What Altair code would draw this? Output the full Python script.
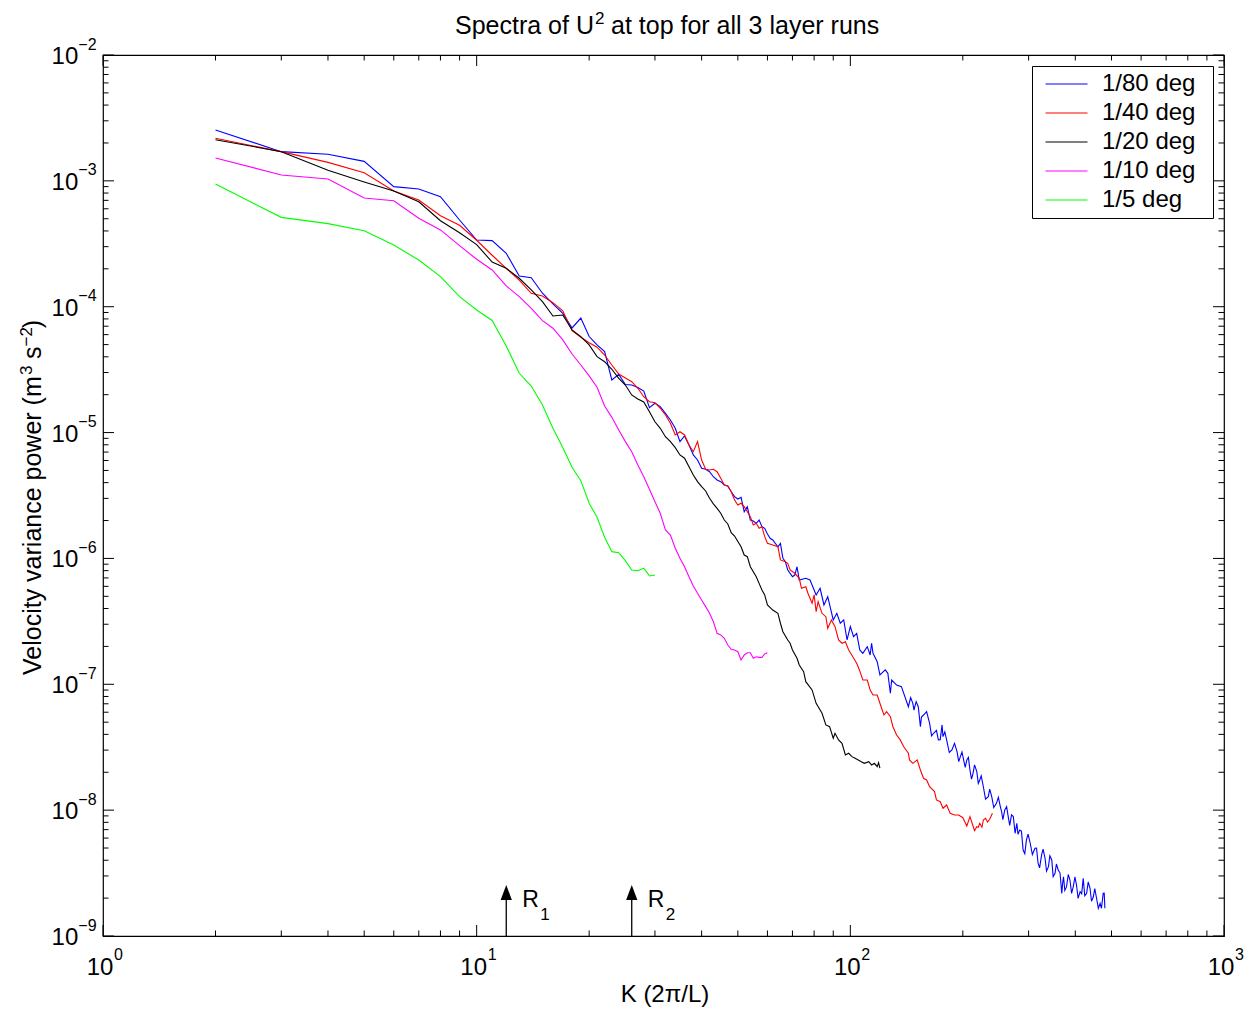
import altair as alt
import pandas as pd

# ---------------- data ----------------
series_names = ["1/80 deg", "1/40 deg", "1/20 deg", "1/10 deg", "1/5 deg"]
series_colors = ["#0000ff", "#ff0000", "#000000", "#ff00ff", "#00ff00"]

# log10 of power, K in units of 2*pi/L
k_80 = list(range(2, 61)) + [61, 62, 64, 65, 66, 67, 68, 70, 71, 72, 73, 76, 78, 80, 81, 83, 85, 87, 90, 92, 94,
                             96, 98, 100, 102, 104, 106, 108, 111, 113, 114, 115, 118, 120, 124, 126, 128, 129,
                             133, 137,
                             143, 145, 147, 148, 150, 152, 154, 155, 157, 160, 163, 165, 167, 170, 172, 174, 176,
                             177, 179, 181, 184, 187, 190, 193, 195, 197, 199, 201, 203, 205, 207, 209, 211, 213,
                             215, 218, 220, 222, 224, 227, 230, 234, 236, 239, 242, 246, 249, 252, 254, 256, 259,
                             262, 265, 267, 270, 273, 276, 279, 281, 284, 287, 290, 293, 296, 299, 303, 307, 312,
                             315, 318, 321, 325, 328, 332, 335, 339, 342, 346, 349, 353, 356, 360, 364, 368, 370,
                             372, 375, 379, 383, 387, 391, 395, 399, 403, 407, 412, 416, 420, 424, 429, 433, 438,
                             442, 447, 451, 456, 461, 466, 470, 475, 478, 480]
lp_80 = [-2.596, -2.768, -2.789, -2.845, -3.046, -3.065, -3.126, -3.311, -3.470, -3.475, -3.576, -3.756,
         -3.769, -3.893, -3.978, -4.052, -4.169, -4.090, -4.237, -4.304, -4.356, -4.582, -4.538, -4.618,
         -4.622, -4.642, -4.670, -4.802, -4.767, -4.794, -4.847, -4.900, -4.966, -5.072, -5.027, -5.099,
         -5.178, -5.218, -5.284, -5.292, -5.311, -5.351, -5.377, -5.390, -5.416, -5.424, -5.470, -5.509,
         -5.528, -5.514, -5.629, -5.589, -5.695, -5.703, -5.721, -5.695, -5.748, -5.761, -5.806,
         -5.840, -5.853, -5.907, -5.880, -5.999, -6.026, -6.092, -6.145, -6.132, -6.066, -6.171, -6.158,
         -6.171, -6.251, -6.290, -6.237, -6.370, -6.304, -6.489, -6.436, -6.515, -6.489, -6.648, -6.542,
         -6.622, -6.595, -6.727, -6.754, -6.701, -6.767, -6.674, -6.754, -6.820, -6.926, -6.886, -6.913,
         -7.071, -6.966, -7.006, -7.019,
         -7.178, -7.105, -7.151, -7.205, -7.138, -7.178, -7.337, -7.260, -7.244, -7.217, -7.310, -7.410,
         -7.389, -7.366, -7.442, -7.440, -7.323, -7.416, -7.379, -7.442, -7.542, -7.522, -7.469, -7.535,
         -7.615, -7.575, -7.538, -7.601, -7.661, -7.601, -7.581, -7.681, -7.754, -7.707, -7.640, -7.694,
         -7.787, -7.760, -7.727, -7.814, -7.913, -7.893, -7.833, -7.893, -7.980, -7.946, -7.899, -7.972,
         -8.012, -8.075, -7.999, -7.972, -8.065, -8.121, -8.038, -8.051, -8.184, -8.104, -8.191, -8.158,
         -8.167, -8.317, -8.347, -8.237, -8.190, -8.263, -8.353, -8.303, -8.302, -8.422, -8.459, -8.356,
         -8.309, -8.382, -8.485, -8.449, -8.362, -8.396, -8.529, -8.502, -8.428, -8.475, -8.498, -8.661,
         -8.580, -8.529, -8.638, -8.608, -8.511, -8.555, -8.661, -8.608, -8.531, -8.595, -8.701, -8.648,
         -8.664, -8.541, -8.680, -8.661, -8.571, -8.621, -8.724, -8.688, -8.624, -8.700, -8.780, -8.740,
         -8.780, -8.661, -8.660, -8.780]

k_40 = list(range(2, 61)) + [62, 64, 65, 67, 68, 69, 71, 73, 74, 76, 77, 79, 80, 81, 82, 84, 86, 87, 89, 91, 93,
                             95, 97, 99, 102, 104, 106, 108, 111, 113, 115, 118, 120, 123, 125, 128, 130, 133,
                             136, 139, 143, 144, 147, 151, 154, 157, 160, 163, 168, 170, 174, 177, 181, 185, 190,
                             195, 200, 205, 209, 213, 215, 218, 220, 222, 225, 227, 230, 233, 236, 240]
lp_40 = [-2.662, -2.768, -2.853, -2.935, -3.081, -3.152, -3.277, -3.353, -3.472, -3.591, -3.695, -3.788,
         -3.893, -3.915, -3.968, -4.032, -4.190, -4.243, -4.286, -4.322, -4.384, -4.463, -4.535, -4.566,
         -4.596, -4.648, -4.715, -4.755, -4.763, -4.807, -4.860, -4.926, -5.019, -4.993, -5.019, -5.099,
         -5.152, -5.072, -5.218, -5.292, -5.297, -5.292, -5.311, -5.363, -5.416, -5.424, -5.470, -5.536,
         -5.575, -5.562, -5.589, -5.629, -5.668, -5.734, -5.721, -5.761, -5.748, -5.827, -5.880,
         -5.893, -5.907, -6.012, -6.026, -6.039, -6.092, -6.118, -6.158, -6.237, -6.225, -6.277, -6.356,
         -6.290, -6.423, -6.344, -6.436, -6.463, -6.555, -6.489, -6.542, -6.648, -6.674, -6.662, -6.727,
         -6.791, -6.833, -6.894, -6.966, -6.966, -7.045, -7.085, -7.085, -7.151, -7.244, -7.218, -7.257,
         -7.337, -7.403, -7.442, -7.496, -7.548, -7.601, -7.628, -7.601, -7.681, -7.747, -7.760, -7.814,
         -7.853, -7.919, -7.933, -7.985, -7.959, -8.025, -8.038, -8.038, -8.060, -8.126, -8.052, -8.126,
         -8.163, -8.131, -8.136, -8.104, -8.136, -8.078, -8.065, -8.094, -8.073, -8.025]

k_20 = list(range(2, 51)) + [51, 52, 53, 54, 56, 57, 58, 59, 60, 62, 64, 65, 66, 68, 69, 70, 72, 73, 75, 76, 79,
                             81, 84, 86, 88, 90, 91, 93, 95, 97, 99, 101, 103, 105, 107, 109, 112, 114, 116, 118,
                             119, 120]
lp_20 = [-2.673, -2.768, -2.916, -3.009, -3.081, -3.166, -3.317, -3.412, -3.507, -3.645, -3.695, -3.774,
         -3.867, -3.960, -4.074, -4.066, -4.185, -4.238, -4.304, -4.397, -4.437, -4.497, -4.569, -4.622,
         -4.701, -4.733, -4.757, -4.834, -4.914, -4.966, -5.033, -5.072, -5.120, -5.178, -5.204, -5.271,
         -5.337, -5.390, -5.430, -5.464, -5.522, -5.567, -5.602, -5.641, -5.695, -5.726, -5.795, -5.822,
         -5.865,
         -5.907, -5.973, -5.986, -6.066, -6.145, -6.198, -6.251, -6.290, -6.370, -6.410, -6.436, -6.515,
         -6.582, -6.648, -6.674, -6.727, -6.793, -6.847, -6.900, -6.979, -7.045, -7.151, -7.230, -7.323,
         -7.337, -7.429, -7.389, -7.442, -7.469, -7.562, -7.548, -7.575, -7.588, -7.601, -7.615, -7.628,
         -7.615, -7.641, -7.628, -7.655, -7.623, -7.667]

k_10 = list(range(2, 61))
lp_10 = [-2.818, -2.953, -2.985, -3.136, -3.158, -3.297, -3.390, -3.515, -3.623, -3.708, -3.835, -3.920,
         -4.013, -4.111, -4.171, -4.264, -4.376, -4.463, -4.550, -4.640, -4.789, -4.879, -4.979, -5.072,
         -5.152, -5.258, -5.351, -5.451, -5.549, -5.641, -5.774, -5.814, -5.919, -5.999, -6.066, -6.145,
         -6.219, -6.277, -6.330, -6.383, -6.436, -6.503, -6.595, -6.608, -6.634, -6.688, -6.722, -6.727,
         -6.741, -6.807, -6.767, -6.749, -6.749, -6.793, -6.781, -6.786, -6.786, -6.759, -6.749]

k_5 = list(range(2, 31))
lp_5 = [-3.025, -3.290, -3.340, -3.396, -3.510, -3.629, -3.761, -3.920, -4.026, -4.109, -4.312, -4.529,
        -4.630, -4.781, -4.966, -5.119, -5.276, -5.382, -5.562, -5.673, -5.832, -5.946, -5.954, -6.018,
        -6.092, -6.097, -6.078, -6.139, -6.132]

# annotation arrows (R1, R2)
arrow_k = [12, 26]
arrow_names = ["R", "R"]
arrow_subs = ["1", "2"]
arrow_base = 1e-9
arrow_head_log = -8.654

# axis ticks / labels
x_major = [1, 10, 100, 1000]
x_exp = ["0", "1", "2", "3"]
x_minor = [m * 10 ** e for e in range(0, 3) for m in range(2, 10)]
y_major = [1e-2, 1e-3, 1e-4, 1e-5, 1e-6, 1e-7, 1e-8, 1e-9]
y_exp = ["\u22122", "\u22123", "\u22124", "\u22125", "\u22126", "\u22127", "\u22128", "\u22129"]
y_minor = [m * 10.0 ** e for e in range(-9, -2) for m in range(2, 10)]

# ---------------- build table ----------------
rows = []
for name, ks, lps in zip(series_names, [k_80, k_40, k_20, k_10, k_5], [lp_80, lp_40, lp_20, lp_10, lp_5]):
    assert len(ks) == len(lps), (name, len(ks), len(lps))
    for k, lp in zip(ks, lps):
        rows.append({"series": name, "K": k, "P": 10 ** lp})
df = pd.DataFrame(rows)

W, H = 1121, 881
FONT = "Liberation Sans"
xs = alt.Scale(type="log", domain=[1, 1000], nice=False)
ys = alt.Scale(type="log", domain=[1e-9, 1e-2], nice=False)

lines = alt.Chart(df).mark_line(strokeWidth=1.1, clip=True).encode(
    x=alt.X("K:Q", scale=xs, axis=None),
    y=alt.Y("P:Q", scale=ys, axis=None),
    color=alt.Color(
        "series:N",
        scale=alt.Scale(domain=series_names, range=series_colors),
        legend=alt.Legend(
            title=None, orient="none", legendX=929, legendY=11, direction="vertical",
            strokeColor="black", fillColor="white", padding=6,
            symbolType="M-3,0L3,0", symbolSize=196, symbolStrokeWidth=1.2,
            symbolOffset=16.5, labelOffset=23.5, labelFontSize=24, labelFont=FONT,
            labelColor="black", rowPadding=5,
            labelExpr="datum.label + '\u00a0\u2009\u200b'",
        ),
    ),
)

def rules_x(vals, length):
    d = pd.DataFrame({"v": vals})
    bottom = alt.Chart(d).mark_rule(color="black", strokeWidth=1).encode(
        x=alt.X("v:Q", scale=xs, axis=None), y=alt.value(H - length), y2=alt.value(H))
    top = alt.Chart(d).mark_rule(color="black", strokeWidth=1).encode(
        x=alt.X("v:Q", scale=xs, axis=None), y=alt.value(0), y2=alt.value(length))
    return [bottom, top]

def rules_y(vals, length):
    d = pd.DataFrame({"v": vals})
    left = alt.Chart(d).mark_rule(color="black", strokeWidth=1).encode(
        y=alt.Y("v:Q", scale=ys, axis=None), x=alt.value(0), x2=alt.value(length))
    right = alt.Chart(d).mark_rule(color="black", strokeWidth=1).encode(
        y=alt.Y("v:Q", scale=ys, axis=None), x=alt.value(W - length), x2=alt.value(W))
    return [left, right]

tick_layers = rules_x(x_major, 11) + rules_x(x_minor, 5.5) + rules_y(y_major, 11) + rules_y(y_minor, 5.5)

xl = pd.DataFrame({"v": x_major, "e": x_exp, "b": ["10"] * 4})
yl = pd.DataFrame({"v": y_major, "e": y_exp, "b": ["10"] * 8})

x_base = alt.Chart(xl).mark_text(font=FONT, fontSize=24, align="center", baseline="alphabetic", dx=-3).encode(
    x=alt.X("v:Q", scale=xs, axis=None), y=alt.value(H + 39), text="b:N")
x_sup = alt.Chart(xl).mark_text(font=FONT, fontSize=16, align="left", baseline="alphabetic", dx=11).encode(
    x=alt.X("v:Q", scale=xs, axis=None), y=alt.value(H + 24), text="e:N")
y_base = alt.Chart(yl).mark_text(font=FONT, fontSize=24, align="right", baseline="alphabetic", dy=9).encode(
    y=alt.Y("v:Q", scale=ys, axis=None), x=alt.value(-24.7), text="b:N")
y_sup = alt.Chart(yl).mark_text(font=FONT, fontSize=16, align="left", baseline="alphabetic", dy=-5.5).encode(
    y=alt.Y("v:Q", scale=ys, axis=None), x=alt.value(-24.7), text="e:N")

# arrows R1 / R2
ad = pd.DataFrame({"K": arrow_k, "lo": [arrow_base] * 2, "hi": [10 ** arrow_head_log] * 2,
                   "n": arrow_names, "s": arrow_subs})
arrow_shaft = alt.Chart(ad).mark_rule(color="black", strokeWidth=1.3).encode(
    x=alt.X("K:Q", scale=xs, axis=None), y=alt.Y("lo:Q", scale=ys, axis=None), y2="hi:Q")
arrow_head = alt.Chart(ad).mark_point(shape="M0,-1L-0.75,1L0.75,1Z", size=225, filled=True,
                                      color="black", opacity=1).encode(
    x=alt.X("K:Q", scale=xs, axis=None), y=alt.Y("hi:Q", scale=ys, axis=None))
arrow_r = alt.Chart(ad).mark_text(font=FONT, fontSize=23, align="left", baseline="alphabetic", dx=16).encode(
    x=alt.X("K:Q", scale=xs, axis=None), y=alt.value(851.7), text="n:N")
arrow_s = alt.Chart(ad).mark_text(font=FONT, fontSize=17, align="left", baseline="alphabetic", dx=34).encode(
    x=alt.X("K:Q", scale=xs, axis=None), y=alt.value(865), text="s:N")

# titles
one = pd.DataFrame({"a": [0]})

def txt(text, x, y, size, align="left", angle=0):
    return alt.Chart(one).mark_text(text=text, font=FONT, fontSize=size, align=align,
                                    baseline="alphabetic", angle=angle, color="black").encode(
        x=alt.value(x), y=alt.value(y))

titles = [
    txt("Spectra of U", 352, -21, 25),
    txt("2", 492, -31, 17),
    txt("at top for all 3 layer runs", 508, -21, 25),
    txt("K (2\u03c0/L)", 562, 947, 24, align="center"),
    txt("Velocity variance power (m", -62, 620, 25, angle=270),
    txt("3", -71, 320, 17, angle=270),
    txt("s", -62, 304, 25, angle=270),
    txt("\u22122", -71, 291.5, 17, angle=270),
    txt(")", -62, 273.3, 25, angle=270),
]

chart = alt.layer(
    lines, *tick_layers, x_base, x_sup, y_base, y_sup,
    arrow_shaft, arrow_head, arrow_r, arrow_s, *titles,
).properties(
    width=W, height=H,
    autosize=alt.AutoSizeParams(type="none"),
    padding={"left": 103, "top": 55, "right": 29, "bottom": 75},
    background="white",
).configure_view(stroke="black", strokeWidth=1.2).configure_text(font=FONT)

chart.save("out.html", embed_options={"renderer": "svg", "actions": False})
